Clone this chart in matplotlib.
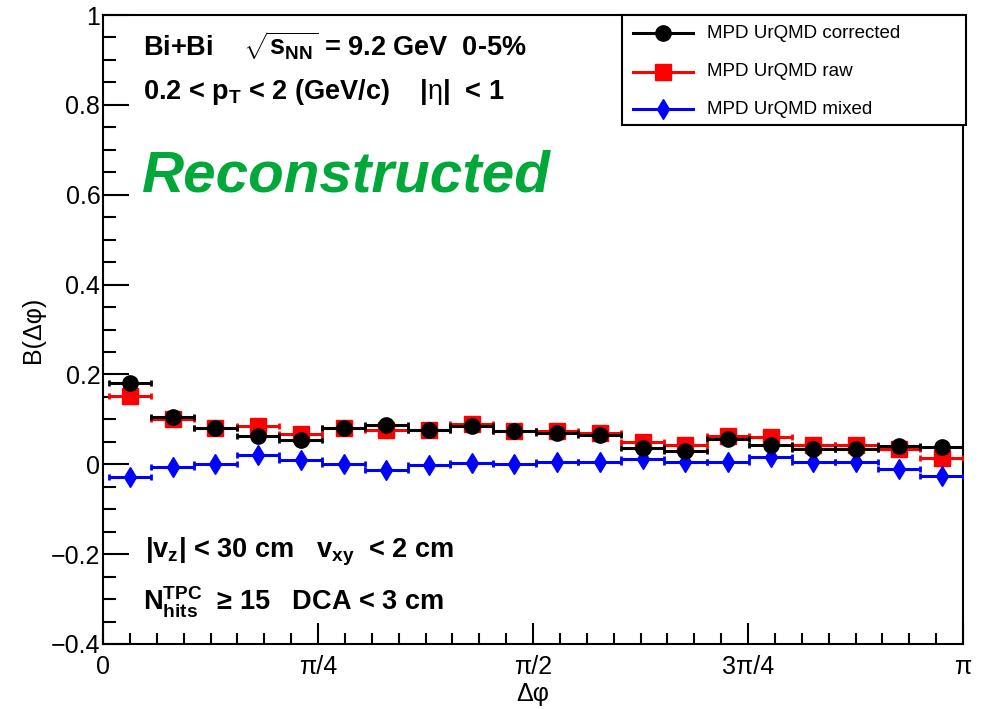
import numpy as np
import matplotlib
matplotlib.use("Agg")
import matplotlib.pyplot as plt
from matplotlib.lines import Line2D
from matplotlib.patches import Rectangle
from matplotlib.ticker import FixedLocator, MultipleLocator, FuncFormatter

plt.rcParams["font.family"] = ["Liberation Sans", "DejaVu Sans"]
plt.rcParams["mathtext.fontset"] = "custom"
plt.rcParams["mathtext.rm"] = "Liberation Sans"
plt.rcParams["mathtext.it"] = "Liberation Sans:italic"
plt.rcParams["mathtext.bf"] = "Liberation Sans:bold"

# bin edges in delta phi (20 bins)
bin_edges = np.linspace(0.02, np.pi, 21)

corrected = [0.180, 0.105, 0.080, 0.063, 0.055, 0.080, 0.088, 0.076, 0.085, 0.073,
             0.069, 0.065, 0.037, 0.030, 0.056, 0.043, 0.035, 0.034, 0.040, 0.039]
raw = [0.153, 0.100, 0.080, 0.086, 0.067, 0.080, 0.076, 0.076, 0.090, 0.074,
       0.075, 0.069, 0.050, 0.043, 0.063, 0.061, 0.044, 0.043, 0.035, 0.013]
mixed = [-0.028, -0.005, 0.000, 0.020, 0.009, 0.000, -0.012, -0.002, 0.003, 0.000,
         0.005, 0.005, 0.011, 0.005, 0.005, 0.016, 0.005, 0.005, -0.010, -0.025]

xtick_vals = [0, np.pi / 4, np.pi / 2, 3 * np.pi / 4, np.pi]
xtick_labels = ["0", "π/4", "π/2", "3π/4", "π"]

series = [
    ("MPD UrQMD raw", raw, "s", "red", 11),
    ("MPD UrQMD mixed", mixed, "d", "blue", 10.5),
    ("MPD UrQMD corrected", corrected, "o", "black", 11),
]
legend_order = ["MPD UrQMD corrected", "MPD UrQMD raw", "MPD UrQMD mixed"]

centers = 0.5 * (bin_edges[:-1] + bin_edges[1:])
half_w = 0.5 * np.diff(bin_edges)

fig = plt.figure(figsize=(9.87, 7.09), dpi=100)
ax = fig.add_axes([0.1044, 0.0917, 0.8713, 0.8871])

styles = {}
for i, (name, vals, mk, col, ms) in enumerate(series):
    ax.errorbar(centers, vals, xerr=half_w, fmt=mk, color=col, ms=ms,
                elinewidth=2.2, capsize=2, capthick=2, zorder=3 + i)
    styles[name] = (mk, col, ms)

ax.set_xlim(0, np.pi)
ax.set_ylim(-0.4, 1.0)

ax.xaxis.set_major_locator(FixedLocator(xtick_vals))
ax.set_xticklabels(xtick_labels)
ax.xaxis.set_minor_locator(MultipleLocator(np.pi / 32))
ax.yaxis.set_major_locator(MultipleLocator(0.2))
ax.yaxis.set_minor_locator(MultipleLocator(0.05))
ax.yaxis.set_major_formatter(FuncFormatter(lambda v, p: ("%g" % round(v, 2)).replace("-", "\u2212")))

ax.tick_params(which="both", direction="in", top=False, right=False, width=1.5, labelsize=18)
ax.tick_params(axis="y", which="major", length=19, pad=2)
ax.tick_params(axis="y", which="minor", length=9)
ax.tick_params(axis="x", which="major", length=15, pad=8)
ax.tick_params(axis="x", which="minor", length=8)
for s in ax.spines.values():
    s.set_linewidth(1.5)

ax.set_xlabel("Δφ", fontsize=18, labelpad=2)
ax.set_ylabel("B(Δφ)", fontsize=18, labelpad=4)

info_fs = 19.5
ax.text(0.047, 0.935, r"Bi+Bi    $\mathbf{\sqrt{s_{NN}}}$ = 9.2 GeV  0-5%",
        transform=ax.transAxes, fontsize=info_fs, fontweight="bold")
ax.text(0.047, 0.867, r"0.2 < $\mathbf{p_{T}}$ < 2 (GeV/c)    |$\mathrm{\eta}$|  < 1",
        transform=ax.transAxes, fontsize=info_fs, fontweight="bold")
ax.text(0.045, 0.72, "Reconstructed", transform=ax.transAxes, fontsize=42,
        fontweight="bold", fontstyle="italic", color="#00a83a")
ax.text(0.049, 0.137, r"|$\mathbf{v_{z}}$| < 30 cm   $\mathbf{v_{xy}}$  < 2 cm",
        transform=ax.transAxes, fontsize=info_fs, fontweight="bold")
ax.text(0.047, 0.053, r"$\mathbf{N_{hits}^{TPC}}$  ≥ 15   DCA < 3 cm",
        transform=ax.transAxes, fontsize=info_fs, fontweight="bold")

# legend box drawn in figure coordinates (ROOT style fixed-size TLegend)
W, H = 987.0, 709.0
fig.patches.append(Rectangle((622 / W, 1 - 125 / H), 344 / W, 110 / H,
                             transform=fig.transFigure, facecolor="white",
                             edgecolor="black", linewidth=1.5, zorder=10))
row_y = [33, 72, 109]
for name, yy in zip(legend_order, row_y):
    mk, col, ms = styles[name]
    fy = 1 - yy / H
    fig.add_artist(Line2D([633 / W, 693 / W], [fy, fy], transform=fig.transFigure,
                          color=col, lw=2.2, marker=None, zorder=11))
    fig.add_artist(Line2D([663 / W], [fy], transform=fig.transFigure, color=col,
                          marker=mk, ms=ms, lw=0, zorder=12))
    fig.text(707 / W, fy, name, fontsize=13.5, va="center", ha="left", zorder=12)

fig.savefig("out.png", dpi=100)
